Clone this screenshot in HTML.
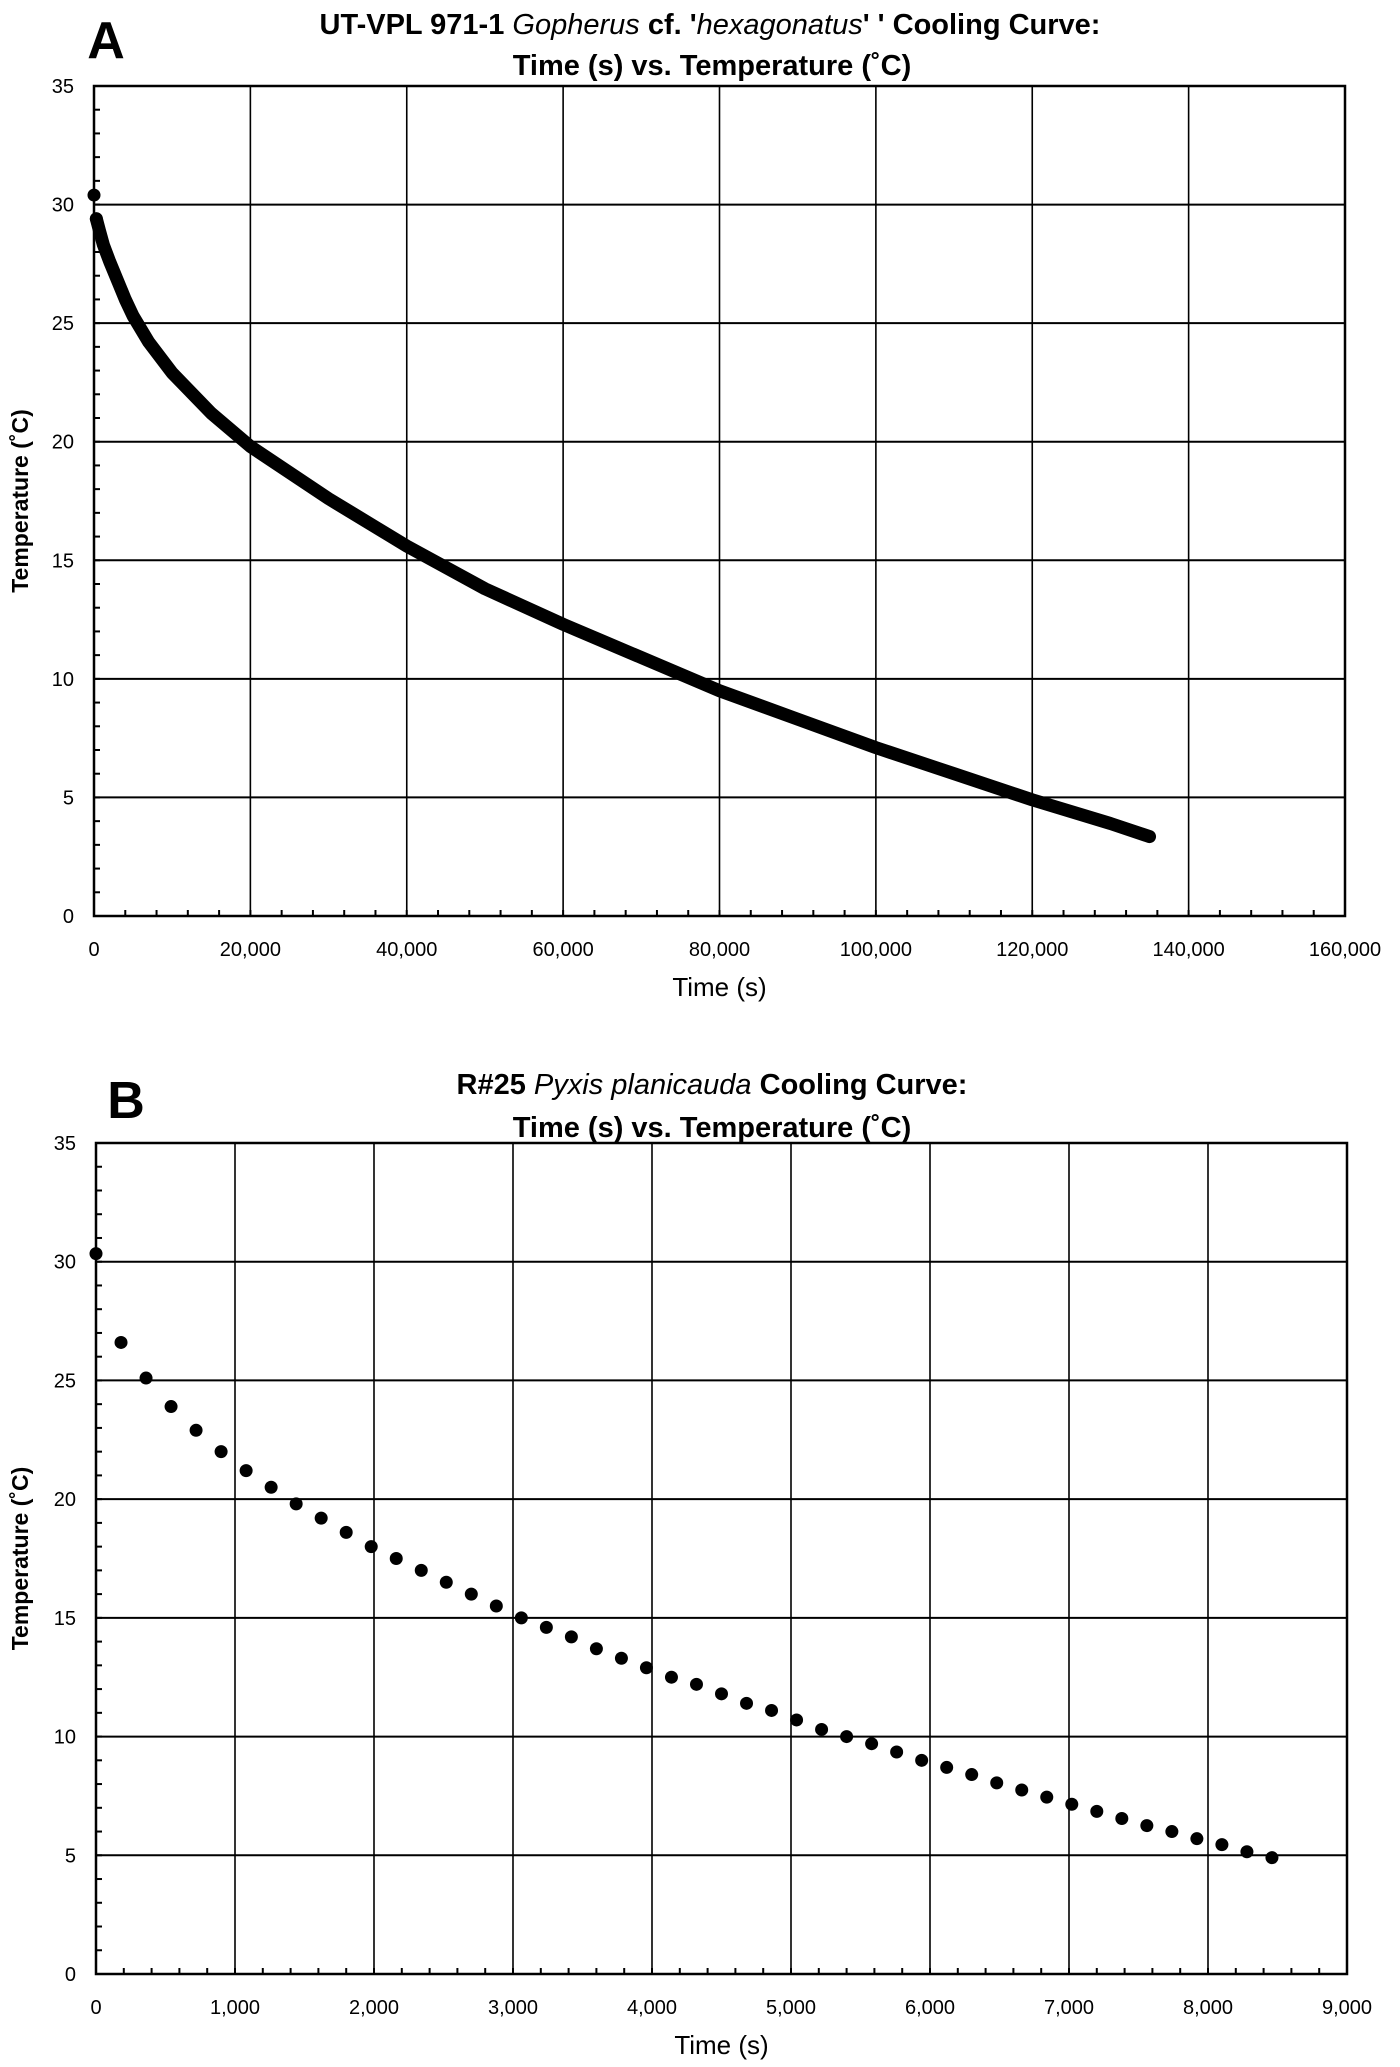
<!DOCTYPE html>
<html><head><meta charset="utf-8"><style>
html,body{margin:0;padding:0;background:#fff}
svg{display:block}
text{font-family:"Liberation Sans Narrow","Liberation Sans",sans-serif;fill:#000}
</style></head><body>
<svg id="fig" width="1400" height="2067" viewBox="0 0 1400 2067" xmlns="http://www.w3.org/2000/svg">
<text x="106" y="58" font-size="52" font-weight="bold" text-anchor="middle" font-family="Liberation Sans">A</text>
<text x="710" y="34" font-size="29" font-weight="bold" text-anchor="middle">UT-VPL 971-1 <tspan font-style="italic" font-weight="normal">Gopherus</tspan> cf. '<tspan font-style="italic" font-weight="normal">hexagonatus</tspan>' ' Cooling Curve:</text>
<text x="712" y="75" font-size="29" font-weight="bold" text-anchor="middle">Time (s) vs. Temperature (˚C)</text>
<text x="126" y="1118" font-size="52" font-weight="bold" text-anchor="middle" font-family="Liberation Sans">B</text>
<text x="712" y="1094" font-size="29" font-weight="bold" text-anchor="middle">R#25 <tspan font-style="italic" font-weight="normal">Pyxis planicauda</tspan> Cooling Curve:</text>
<text x="712" y="1137" font-size="29" font-weight="bold" text-anchor="middle">Time (s) vs. Temperature (˚C)</text>
</svg>
<script>
// Chart A data
const aTimes = [0, 300, 700, 1200, 2000, 3000, 4000, 5000, 7000, 10000, 15000, 20000, 30000, 40000, 50000, 60000, 70000, 80000, 90000, 100000, 110000, 120000, 130000, 135000];
const aTemps = [30.4, 29.4, 28.9, 28.3, 27.6, 26.8, 26.0, 25.3, 24.2, 22.9, 21.2, 19.8, 17.6, 15.6, 13.8, 12.3, 10.9, 9.5, 8.3, 7.1, 6.0, 4.9, 3.9, 3.35];
const aXTicks = [0, 20000, 40000, 60000, 80000, 100000, 120000, 140000, 160000];
const aYTicks = [0, 5, 10, 15, 20, 25, 30, 35];
// Chart B data
const bTemps = [30.34, 26.6, 25.1, 23.9, 22.9, 22.0, 21.2, 20.5, 19.8, 19.2, 18.6, 18.0, 17.5, 17.0, 16.5, 16.0, 15.5, 15.0, 14.6, 14.2, 13.7, 13.3, 12.9, 12.5, 12.2, 11.8, 11.4, 11.1, 10.7, 10.3, 10.0, 9.7, 9.35, 9.0, 8.7, 8.4, 8.05, 7.75, 7.45, 7.15, 6.85, 6.55, 6.25, 6.0, 5.7, 5.45, 5.15, 4.9];
const bInterval = 180;
const bXTicks = [0, 1000, 2000, 3000, 4000, 5000, 6000, 7000, 8000, 9000];
const bYTicks = [0, 5, 10, 15, 20, 25, 30, 35];

const NS = "http://www.w3.org/2000/svg";
const svg = document.getElementById('fig');
function mk(tag, attrs, parent) {
  const e = document.createElementNS(NS, tag);
  for (const k in attrs) e.setAttribute(k, attrs[k]);
  (parent || svg).appendChild(e);
  return e;
}
function fmt(v) { return v.toLocaleString('en-US'); }

function drawChart(cfg) {
  const g = mk('g', {});
  
  
  const {L, R, T, B, xMax, yMax} = cfg;
  const sx = v => L + (v / xMax) * (R - L);
  const sy = v => B - (v / yMax) * (B - T);
  cfg.yTicks.forEach(v => {
    if (v === 0) return;
    const l = mk('line', {x1: L, x2: R, y1: sy(v), y2: sy(v), stroke: '#000', 'stroke-width': 2}, g);
    
    
  });
  cfg.xTicks.forEach(v => {
    if (v === 0) return;
    const l = mk('line', {x1: sx(v), x2: sx(v), y1: T, y2: B, stroke: '#000', 'stroke-width': 1.6}, g);
    
    
  });
  for (let v = 0; v <= yMax; v += cfg.yMinor) {
    mk('line', {x1: L, x2: L + 6, y1: sy(v), y2: sy(v), stroke: '#000', 'stroke-width': 2}, g);
  }
  for (let v = 0; v <= xMax; v += cfg.xMinor) {
    mk('line', {x1: sx(v), x2: sx(v), y1: B, y2: B - 6, stroke: '#000', 'stroke-width': 2}, g);
  }
  const fr = mk('rect', {x: L, y: T, width: R - L, height: B - T, fill: 'none', stroke: '#000', 'stroke-width': 2.5}, g);
  
  
  cfg.yTicks.forEach(v => {
    const t = mk('text', {x: L - 20, y: sy(v) + 7, 'font-size': 20, 'text-anchor': 'end'}, g);
    
    
    t.textContent = v;
  });
  cfg.xTicks.forEach(v => {
    const t = mk('text', {x: sx(v), y: B + 40, 'font-size': 20, 'text-anchor': 'middle'}, g);
    
    
    t.textContent = fmt(v);
  });
  const xt = mk('text', {x: (L + R) / 2, y: B + 80, 'font-size': 26, 'text-anchor': 'middle'}, g);
  
  
  xt.textContent = 'Time (s)';
  const yc = (T + B) / 2;
  const yt = mk('text', {x: 28, y: yc, 'font-size': 23, 'font-weight': 'bold', 'text-anchor': 'middle', transform: `rotate(-90 28 ${yc})`, 'font-family': 'Liberation Sans'}, g);
  
  
  yt.textContent = 'Temperature (˚C)';
  return {g, sx, sy};
}

// Chart A
const A = drawChart({name: 'chart-a', L: 94, R: 1345, T: 86, B: 916, xMax: 160000, yMax: 35,
  xTicks: aXTicks, yTicks: aYTicks, xMinor: 4000, yMinor: 1});
const pts = aTimes.slice(1).map((t, i) => `${A.sx(t)},${A.sy(aTemps[i + 1])}`).join(' ');
const curve = mk('polyline', {points: pts, fill: 'none', stroke: '#000', 'stroke-width': 13, 'stroke-linecap': 'round', 'stroke-linejoin': 'round'}, A.g);


aTimes.slice(0, 2).forEach((t, i) => {
  const c = mk('circle', {cx: A.sx(t), cy: A.sy(aTemps[i]), r: 6.5, fill: '#000'}, A.g);
  
  
});

// Chart B
const Bc = drawChart({name: 'chart-b', L: 96, R: 1347, T: 1143, B: 1974, xMax: 9000, yMax: 35,
  xTicks: bXTicks, yTicks: bYTicks, xMinor: 200, yMinor: 1});
bTemps.forEach((v, i) => {
  const c = mk('circle', {cx: Bc.sx(i * bInterval), cy: Bc.sy(v), r: 6.5, fill: '#000'}, Bc.g);
  
  
});
</script>
</body></html>
